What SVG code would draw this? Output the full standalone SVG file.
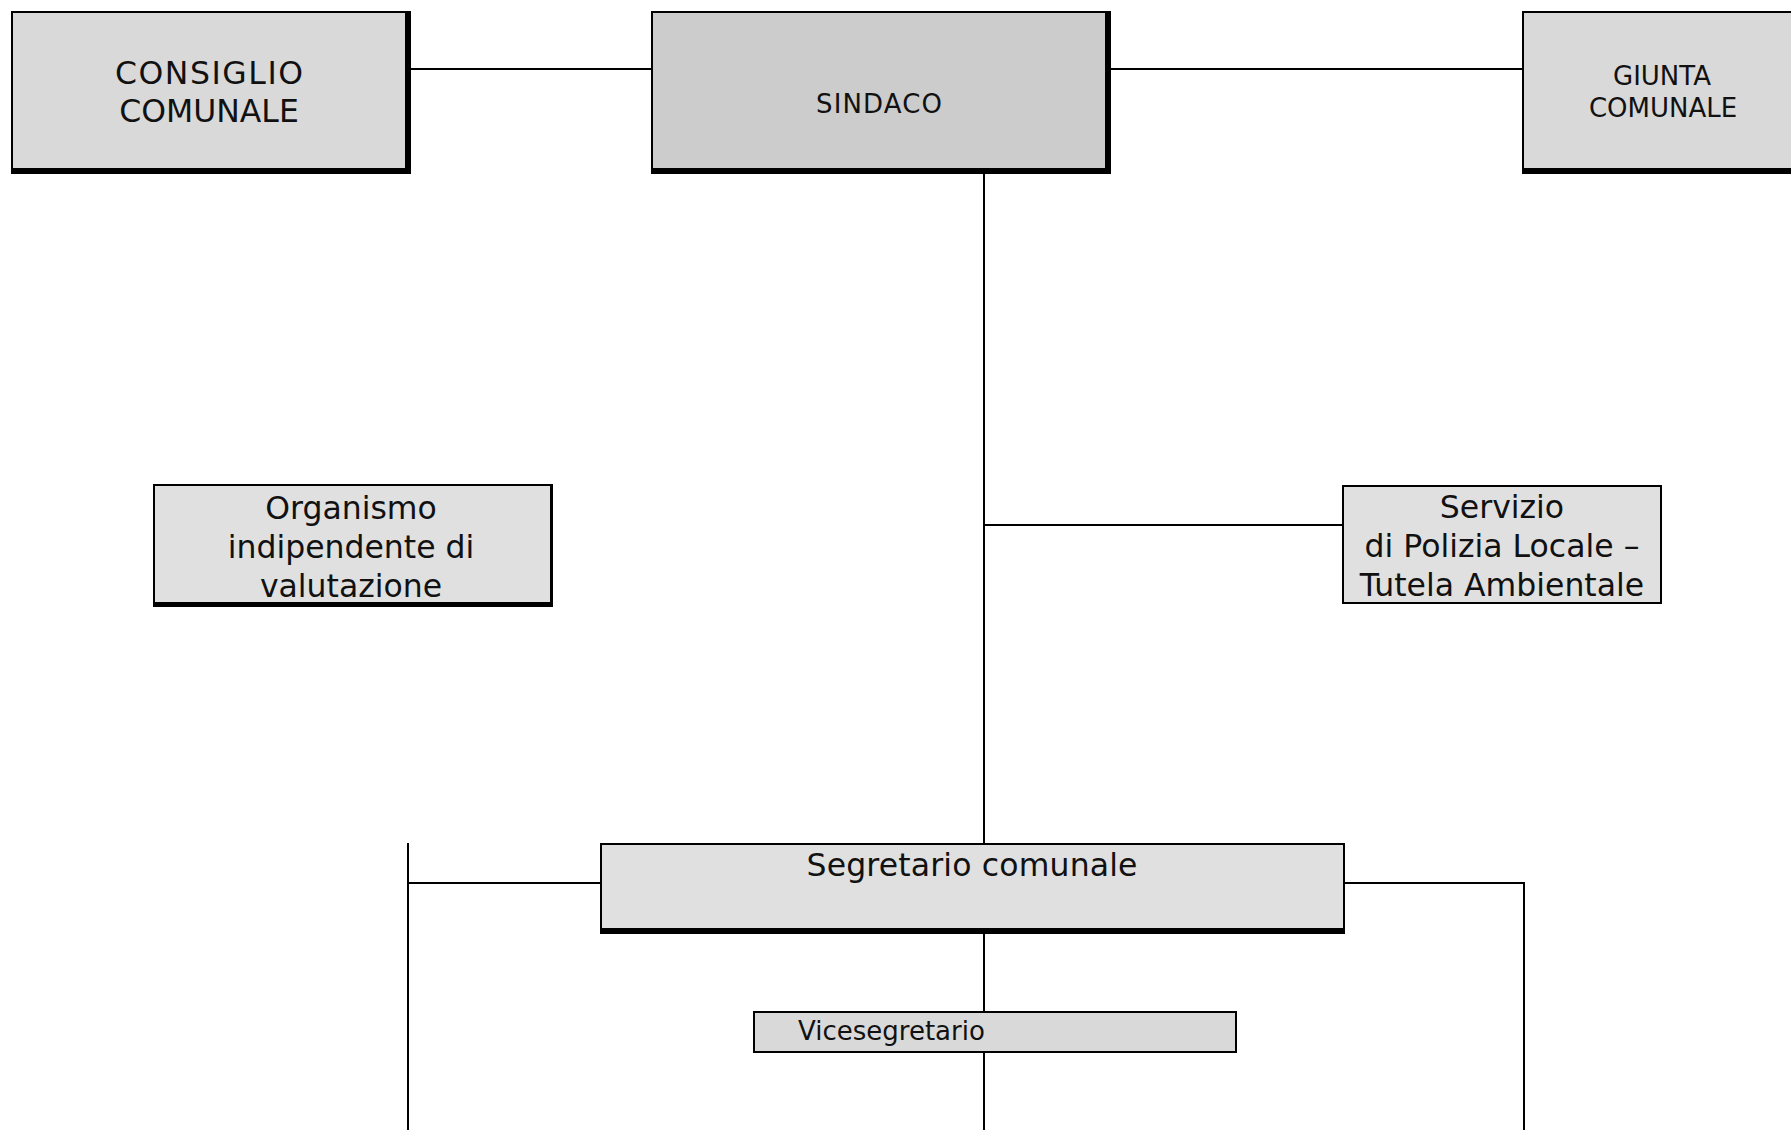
<svg xmlns="http://www.w3.org/2000/svg" width="1791" height="1130" viewBox="0 0 1791 1130">
<style>
.bg{fill:#ffffff}
.sh{fill:#000000}
.box{stroke:#000000;stroke-width:2}
.g1{fill:#d9d9d9}
.g2{fill:#cccccc}
.g3{fill:#e0e0e0}
.conn{fill:none;stroke:#000000;stroke-width:2}
text{font-family:"DejaVu Sans",Verdana,sans-serif;fill:#111111}
.l{font-size:31.5px;text-anchor:middle}
.s{font-size:26px;text-anchor:middle}
</style>
<rect class="bg" x="0" y="0" width="1791" height="1130"/>
<g id="connectors">
<path class="conn" d="M411 69 H651"/>
<path class="conn" d="M1111 69 H1522"/>
<path class="conn" d="M984 174 V843"/>
<path class="conn" d="M984 525 H1342"/>
<path class="conn" d="M984 934 V1011"/>
<path class="conn" d="M984 1053 V1130"/>
<path class="conn" d="M408 843 V1130"/>
<path class="conn" d="M408 883 H600"/>
<path class="conn" d="M1345 883 H1524 V1130"/>
</g>
<g id="consiglio">
<rect class="sh" x="11" y="11" width="400" height="163"/>
<rect class="g1" x="13" y="13" width="392" height="155"/>
<text class="l" x="209" y="84" font-size="32" textLength="188" lengthAdjust="spacing">CONSIGLIO</text>
<text class="l" x="209" y="122" font-size="32">COMUNALE</text>
</g>
<g id="sindaco">
<rect class="sh" x="651" y="11" width="460" height="163"/>
<rect class="g2" x="653" y="13" width="452" height="155"/>
<text class="s" x="879" y="113" textLength="126" lengthAdjust="spacing">SINDACO</text>
</g>
<g id="giunta">
<rect class="sh" x="1522" y="11" width="290" height="163"/>
<rect class="g1" x="1524" y="13" width="290" height="155"/>
<text class="s" x="1662" y="85">GIUNTA</text>
<text class="s" x="1663" y="117">COMUNALE</text>
</g>
<g id="organismo">
<rect class="sh" x="153" y="484" width="400" height="123"/>
<rect class="g3" x="155" y="486" width="395" height="116"/>
<text class="l" x="351" y="519">Organismo</text>
<text class="l" x="351" y="558">indipendente di</text>
<text class="l" x="351" y="597">valutazione</text>
</g>
<g id="polizia">
<rect class="g3 box" x="1343" y="486" width="318" height="117"/>
<text class="l" x="1502" y="518">Servizio</text>
<text class="l" x="1502" y="557">di Polizia Locale –</text>
<text class="l" x="1502" y="596">Tutela Ambientale</text>
</g>
<g id="segretario">
<rect class="sh" x="600" y="843" width="745" height="91"/>
<rect class="g3" x="602" y="845" width="741" height="83"/>
<text class="l" x="972" y="876" textLength="331" lengthAdjust="spacing">Segretario comunale</text>
</g>
<g id="vicesegretario">
<rect class="g1 box" x="754" y="1012" width="482" height="40"/>
<text x="798" y="1040" font-size="26">Vicesegretario</text>
</g>
</svg>
